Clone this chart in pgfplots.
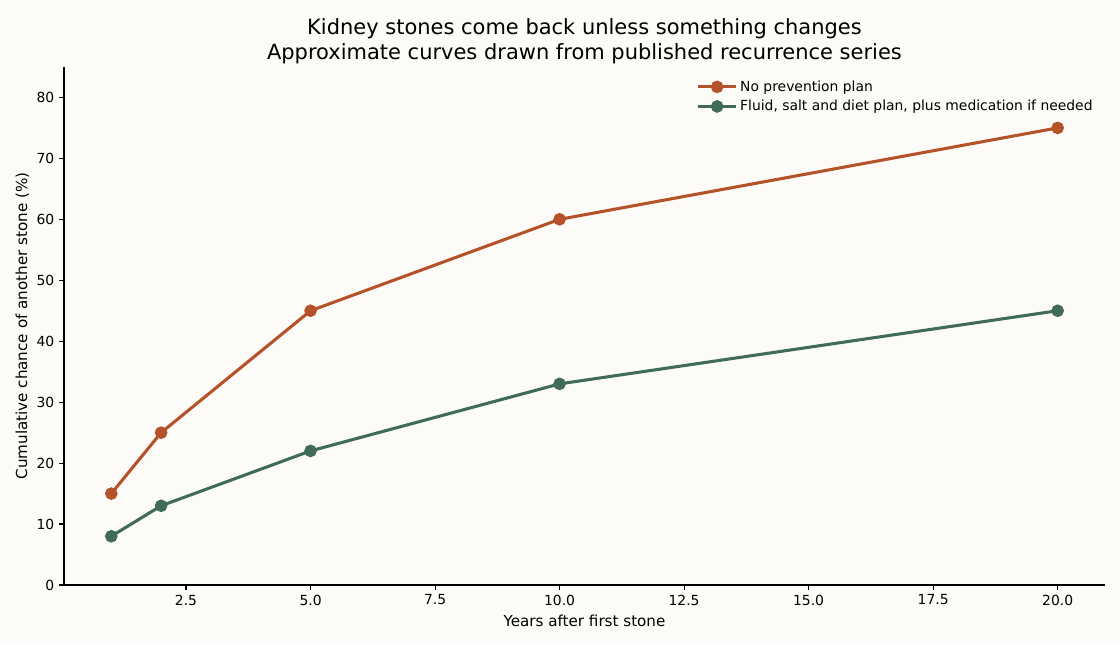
\documentclass[border=0pt]{standalone}
\usepackage{pgfplots}
\pgfplotsset{compat=1.18}
\usepackage{fontspec}
\setmainfont{DejaVu Sans}
\definecolor{bg}{HTML}{FCFBF7}
\definecolor{orn}{HTML}{B5522A}
\definecolor{grn}{HTML}{3F6B58}
\begin{document}
\begin{tikzpicture}
\fill[bg] (0,0) rectangle (806.4pt,463.68pt);
\useasboundingbox (0,0) rectangle (806.4pt,463.68pt);
\begin{axis}[
  at={(46.08pt,42.48pt)}, anchor=south west,
  scale only axis, width=749.5pt, height=373pt,
  xmin=0.05, xmax=20.95, ymin=0, ymax=85,
  axis lines*=left,
  axis line style={line width=0.8pt},
  xtick={2.5,5,7.5,10,12.5,15,17.5,20},
  xticklabels={2.5,5.0,7.5,10.0,12.5,15.0,17.5,20.0},
  ytick={0,10,...,80},
  tick align=outside, major tick length=3.5pt,
  tick style={black, line width=0.8pt},
  /pgf/number format/assume math mode=true,
  ticklabel style={font=\fontsize{10}{12}\selectfont},
  xlabel={Years after first stone},
  ylabel={Cumulative chance of another stone (\%)},
  label style={font=\fontsize{10.9}{12}\selectfont},
  xlabel style={yshift=0pt},
  ylabel style={yshift=-1.5pt},
  legend style={draw=none, fill=none, at={(0.995,0.985)}, anchor=north east,
    font=\fontsize{10}{12}\selectfont, row sep=1pt},
  legend cell align=left,
  legend image code/.code={\draw[#1] (0pt,0pt) -- (27pt,0pt); \draw[#1, mark repeat=1] plot coordinates {(13.5pt,0pt)};},
]
\addplot[orn, line width=2.2pt, mark=*, mark size=3.4pt, mark options={fill=orn}] coordinates {(1,15) (2,25) (5,45) (10,60) (20,75)};
\addlegendentry{No prevention plan}
\addplot[grn, line width=2.2pt, mark=*, mark size=3.4pt, mark options={fill=grn}] coordinates {(1,8) (2,13) (5,22) (10,33) (20,45)};
\addlegendentry{Fluid, salt and diet plan, plus medication if needed}
\end{axis}
\node[font=\fontsize{15.1}{17.6}\selectfont, align=center] at (420.8pt, 463.68pt-29.7pt) {Kidney stones come back unless something changes\\Approximate curves drawn from published recurrence series};
\end{tikzpicture}
\end{document}
